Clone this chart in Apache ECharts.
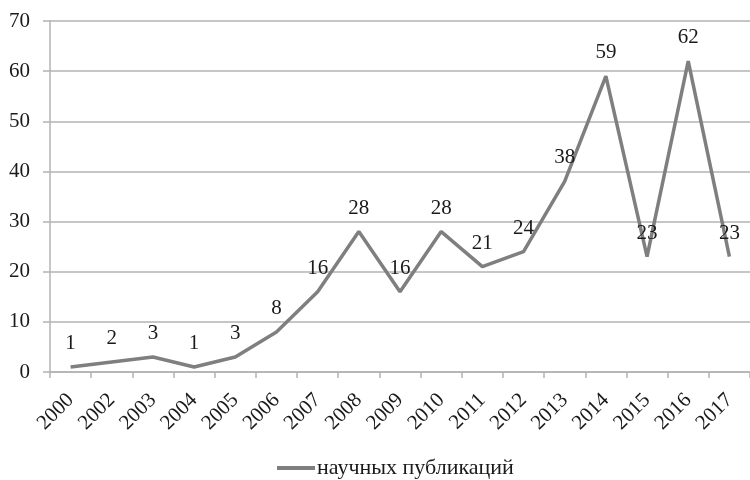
<!DOCTYPE html>
<html>
<head>
<meta charset="utf-8">
<script src="https://cdn.jsdelivr.net/npm/echarts@6/dist/echarts.min.js"></script>
<style>html,body{margin:0;padding:0;background:#fff}#c{width:750px;height:480px}</style>
</head>
<body>
<div id="c"></div>
<script>
const categories = ['2000','2002','2003','2004','2005','2006','2007','2008','2009','2010','2011','2012','2013','2014','2015','2016','2017'];
const publications = [1,2,3,1,3,8,16,28,16,28,21,24,38,59,23,62,23];
const yTicks = {min:0, max:70, interval:10};
const seriesName = 'научных публикаций';

const FONT = "'Liberation Serif','Times New Roman',serif";
const chart = echarts.init(document.getElementById('c'), null, {renderer:'canvas'});
chart.setOption({
  animation:false,
  backgroundColor:'#fff',
  textStyle:{fontFamily:FONT},
  grid:{left:50, top:21, width:702, height:351, containLabel:false},
  xAxis:{
    type:'category', data:categories, boundaryGap:true,
    axisLine:{lineStyle:{color:'#b3b3b3', width:1.5}},
    axisTick:{show:true, length:6, alignWithLabel:false, lineStyle:{color:'#b3b3b3', width:1.5}},
    axisLabel:{rotate:45, margin:25, color:'#1a1a1a', fontSize:21, fontFamily:FONT, interval:0}
  },
  yAxis:{
    type:'value', min:yTicks.min, max:yTicks.max, interval:yTicks.interval,
    axisLine:{show:true, lineStyle:{color:'#b3b3b3', width:1.5}},
    axisTick:{show:true, inside:false, length:7, lineStyle:{color:'#b3b3b3', width:1.5}},
    splitLine:{lineStyle:{color:'#b3b3b3', width:1.5}},
    axisLabel:{margin:20, color:'#1a1a1a', fontSize:21, fontFamily:FONT}
  },
  legend:{
    data:[seriesName], left:277, top:457, padding:0, icon:'rect', itemWidth:38, itemHeight:4, itemGap:3,
    textStyle:{fontSize:22, color:'#1a1a1a', fontFamily:FONT, padding:[0,0,0,-3]}
  },
  series:[{
    name:seriesName, type:'line', data:publications,
    symbol:'circle', symbolSize:0.01, showSymbol:true,
    itemStyle:{color:'#7f7f7f'},
    lineStyle:{color:'#7f7f7f', width:3.5},
    label:{show:true, position:'top', distance:13, fontSize:21, color:'#1a1a1a', fontFamily:FONT},
    labelLayout:{hideOverlap:false}
  }]
});
</script>
</body>
</html>
